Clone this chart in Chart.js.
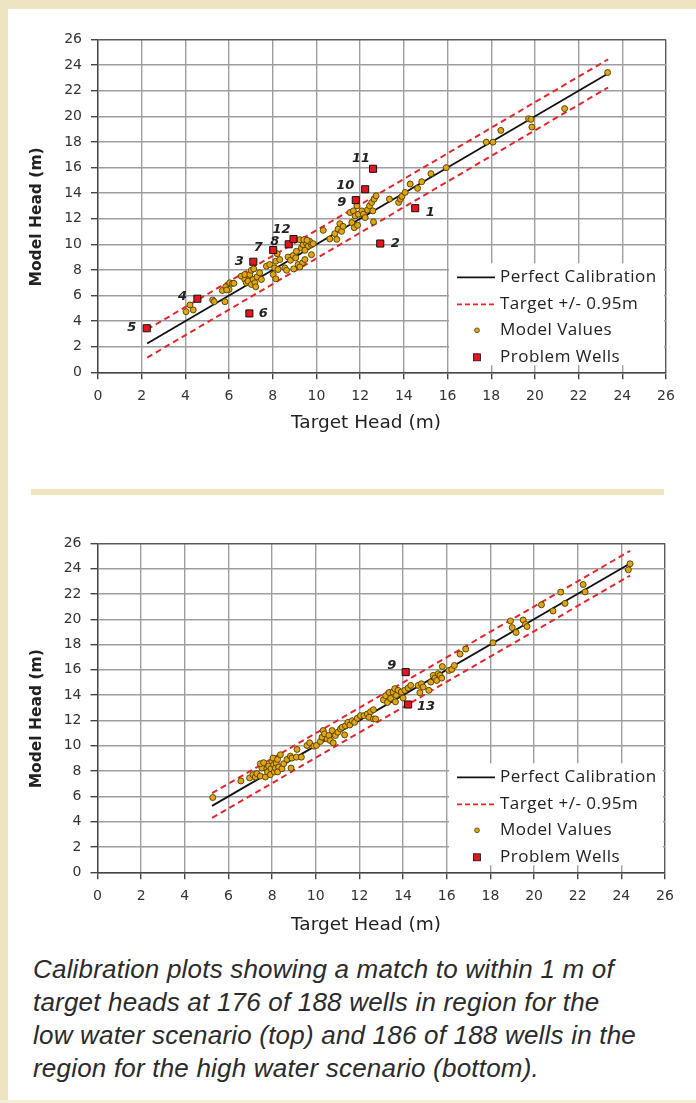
<!DOCTYPE html>
<html>
<head>
<meta charset="utf-8">
<script src="https://cdn.jsdelivr.net/npm/chart.js"></script>
<style>
  body { margin: 0; background: #fff; }
  #page { position: relative; width: 696px; height: 1103px; overflow: hidden; background: #fff; }
  canvas { position: absolute; left: 0; }
  .band { position: absolute; background: #eee4c2; }
  #caption {
    position: absolute; left: 33px; top: 953px;
    font: italic 26px "Liberation Sans", Arial, sans-serif;
    letter-spacing: 0.2px;
    line-height: 33px; color: #2b2b2b;
  }
</style>
</head>
<body>
<div id="page">
  <canvas id="lowChart" width="696" height="445" style="top:0"></canvas>
  <canvas id="highChart" width="696" height="445" style="top:500px"></canvas>
  <div class="band" style="left:0;top:0;width:696px;height:9px"></div>
  <div class="band" style="left:0;top:0;width:8px;height:1103px"></div>
  <div class="band" style="left:31px;top:489px;width:633px;height:6px"></div>
  <div class="band" style="left:0;top:1100px;width:696px;height:3px;background:#f4eed8"></div>
  <div id="caption">Calibration plots showing a match to within 1 m of<br>target heads at 176 of 188 wells in region for the<br>low water scenario (top) and 186 of 188 wells in the<br>region for the high water scenario (bottom).</div>
</div>
<script>
// tick values shared by both axes of both plots
const axisTicks = [0, 2, 4, 6, 8, 10, 12, 14, 16, 18, 20, 22, 24, 26];

const legendLabels = ["Perfect Calibration", "Target +/- 0.95m", "Model Values", "Problem Wells"];

// ---- low water scenario (top) ----
const lowLineX = [2.25, 23.35];
const lowPerfectY = [2.25, 23.35];
const lowUpperY = [3.35, 24.45];
const lowLowerY = [1.15, 22.25];

const lowModelX = [4.03, 4.21, 4.36, 5.25, 5.32, 5.81, 5.69, 5.85, 6.03, 6.15, 6.0, 5.89, 6.22,
  6.56, 6.72, 6.79, 6.95, 6.87, 7.02, 7.10, 7.18, 6.72, 6.95, 7.02, 7.28, 7.40, 7.13, 7.22, 7.48,
  7.71, 7.86, 8.09, 8.14, 8.24, 8.02, 8.14, 8.32, 8.20, 8.55, 8.70, 8.81, 8.93, 9.05, 9.16, 9.36,
  9.47, 8.63, 8.96, 9.24, 9.08, 9.31, 9.39, 9.54, 9.62, 9.77, 9.47, 9.69, 9.85, 9.24, 9.42, 9.57,
  9.77, 10.31, 10.61, 10.84, 10.99, 11.15, 11.07, 11.22, 10.93, 11.54, 11.69, 11.77, 11.85, 11.92,
  12.08, 12.15, 12.23, 12.34, 12.43, 12.53, 12.64, 12.73, 12.58, 12.61, 11.62, 11.73, 11.88, 13.34,
  13.76, 13.84, 13.91, 14.06, 14.29, 14.63, 14.82, 15.24, 15.94, 17.77, 18.08, 18.44, 19.71, 19.82,
  19.86, 21.36, 23.33];
const lowModelY = [4.74, 5.26, 4.87, 5.65, 5.52, 5.52, 6.39, 6.68, 6.99, 6.94, 6.47, 6.43, 6.95,
  7.51, 7.25, 6.99, 7.38, 7.12, 6.86, 7.25, 6.99, 7.64, 7.64, 7.97, 7.45, 7.77, 8.08, 6.68, 7.25,
  8.29, 8.42, 8.16, 8.68, 8.03, 7.64, 7.30, 8.81, 9.27, 8.16, 9.01, 8.75, 9.12, 8.94, 8.42, 8.55,
  8.81, 7.97, 8.08, 8.23, 9.45, 9.71, 9.97, 10.10, 9.84, 9.97, 9.53, 10.23, 10.05, 10.36, 10.36, 10.31,
  9.19, 11.09, 10.42, 10.83, 11.19, 11.01, 11.61, 11.40, 10.39, 12.48, 12.61, 12.22, 13.00, 12.35,
  12.61, 12.35, 12.09, 12.69, 13.00, 13.27, 13.53, 13.79, 12.61, 11.75, 11.70, 11.30, 11.49, 13.53,
  13.27, 13.53, 13.74, 14.05, 14.71, 14.37, 14.89, 15.52, 15.99, 17.98, 17.98, 18.90, 19.81, 19.76,
  19.16, 20.60, 23.42];

const lowWellNames = ["5", "4", "6", "3", "7", "8", "12", "9", "10", "11", "2", "1"];
const lowWellX = [2.23, 4.55, 6.93, 7.11, 8.02, 8.73, 8.95, 11.80, 12.23, 12.59, 12.92, 14.52];
const lowWellY = [3.44, 5.75, 4.60, 8.64, 9.55, 10.00, 10.41, 13.45, 14.30, 15.90, 10.06, 12.82];

// ---- high water scenario (bottom) ----
const highLineX = [5.25, 24.4];
const highPerfectY = [5.25, 24.4];
const highUpperY = [6.25, 25.4];
const highLowerY = [4.3, 23.45];

const highModelX = [5.28, 6.57, 6.97, 7.12, 7.23, 7.30, 7.46, 7.53, 7.46, 7.61, 7.69, 7.76, 7.79,
  7.84, 7.92, 7.95, 7.99, 8.04, 8.07, 8.10, 8.15, 8.19, 8.25, 8.30, 8.25, 8.38, 8.45, 8.53, 8.68,
  8.84, 8.87, 8.91, 9.11, 9.14, 9.34, 9.60, 9.72, 9.91, 10.03, 10.21, 10.29, 10.34, 10.40, 10.52,
  10.60, 10.67, 10.75, 10.80, 10.90, 11.01, 11.13, 11.21, 11.32, 11.36, 11.47, 11.56, 11.67, 11.78,
  11.90, 12.05, 12.21, 12.36, 12.51, 12.64, 12.44, 12.64, 12.74, 13.10, 13.20, 13.28, 13.36, 13.43,
  13.54, 13.62, 13.69, 13.77, 13.65, 13.92, 14.00, 14.08, 14.23, 14.35, 14.69, 14.77, 14.84, 14.92,
  15.18, 15.27, 15.38, 15.46, 15.54, 15.61, 15.69, 15.77, 15.80, 16.10, 16.23, 16.35, 16.61, 16.87,
  18.12, 18.92, 19.00, 19.18, 19.50, 19.61, 19.68, 20.34, 20.87, 21.22, 21.42, 22.25, 22.34, 24.32,
  24.40];
const highModelY = [5.91, 7.22, 7.46, 7.72, 7.53, 7.80, 7.61, 8.24, 8.58, 8.66, 7.53, 8.19, 7.93,
  8.40, 7.72, 8.19, 8.76, 9.03, 8.50, 7.93, 8.24, 8.63, 8.92, 8.32, 7.93, 9.29, 8.19, 8.58, 8.92,
  9.18, 8.24, 9.03, 9.10, 9.71, 9.10, 10.02, 10.23, 9.97, 10.02, 10.34, 10.68, 11.20, 10.94, 10.54,
  10.81, 10.41, 11.20, 10.23, 10.81, 11.07, 11.33, 11.46, 10.86, 11.59, 11.85, 11.64, 11.98, 11.85,
  12.17, 12.38, 12.38, 12.51, 12.69, 12.85, 12.25, 12.12, 12.12, 13.63, 13.95, 13.42, 14.21, 13.74,
  14.25, 14.51, 13.99, 14.38, 13.47, 14.25, 13.78, 14.38, 14.56, 14.77, 14.77, 14.20, 14.90, 14.64,
  14.38, 15.03, 15.56, 15.35, 15.16, 15.69, 15.56, 15.35, 16.26, 15.95, 16.03, 16.34, 17.25, 17.64,
  18.14, 19.86, 19.34, 18.95, 19.94, 19.60, 19.42, 21.14, 20.65, 22.14, 21.25, 22.74, 22.16, 23.91,
  24.38];

const highWellNames = ["9", "13"];
const highWellX = [14.12, 14.23];
const highWellY = [15.82, 13.26];

// label offsets (px) next to each problem well
const lowLabelOffsets = [[-15, -1], [-15, -2], [14, 0], [-14, 0], [-15, -2], [-14, -3], [-12, -9],
  [-14, 2], [-20, -4], [-12, -10], [15, 0], [15, 4]];
const highLabelOffsets = [[-14, -6], [18, 2]];

const modelFill = "#e2a514";
const modelEdge = "#4d3d00";
const wellFill = "#e8141c";
const dashRed = "#e2262b";

function toPoints(xs, ys) {
  return xs.map((x, i) => ({ x: x, y: ys[i] }));
}

// legend drawn inside the plot, the well numbers and both axis titles
const overlayPlugin = {
  id: "overlay",
  afterDatasetsDraw(chart) {
    const { ctx, chartArea } = chart;
    const cfg = chart.options.plugins.overlay;
    const b = chartArea.bottom;

    ctx.save();
    ctx.fillStyle = "#fff";
    ctx.fillRect(449, b - 109, chartArea.right - 451, 102);

    const rows = [b - 95, b - 68, b - 42, b - 15];
    ctx.lineWidth = 1.8;
    ctx.strokeStyle = "#111";
    ctx.beginPath(); ctx.moveTo(457, rows[0]); ctx.lineTo(495, rows[0]); ctx.stroke();
    ctx.strokeStyle = dashRed;
    ctx.setLineDash([5, 3]);
    ctx.beginPath(); ctx.moveTo(457, rows[1]); ctx.lineTo(495, rows[1]); ctx.stroke();
    ctx.setLineDash([]);

    ctx.lineWidth = 0.8;
    ctx.fillStyle = modelFill;
    ctx.strokeStyle = modelEdge;
    ctx.beginPath(); ctx.arc(477, rows[2], 2.4, 0, Math.PI * 2); ctx.fill(); ctx.stroke();
    ctx.fillStyle = wellFill;
    ctx.strokeStyle = "#111";
    ctx.fillRect(473.5, rows[3] - 3.5, 7, 7); ctx.strokeRect(473.5, rows[3] - 3.5, 7, 7);

    ctx.fillStyle = "#222";
    ctx.font = "17px 'Open Sans'";
    ctx.letterSpacing = "0.5px";
    ctx.textBaseline = "middle";
    ctx.textAlign = "left";
    legendLabels.forEach((t, i) => ctx.fillText(t, 500, rows[i]));
    ctx.letterSpacing = "0px";

    // problem well numbers
    const xs = chart.scales.x, ys = chart.scales.y;
    ctx.font = "italic bold 13px 'DejaVu Sans'";
    ctx.textAlign = "center";
    cfg.names.forEach((name, i) => {
      const px = xs.getPixelForValue(cfg.wx[i]) + cfg.offsets[i][0];
      const py = ys.getPixelForValue(cfg.wy[i]) + cfg.offsets[i][1];
      ctx.fillText(name, px, py);
    });

    // axis titles
    ctx.fillStyle = "#222";
    ctx.font = "18.5px 'DejaVu Sans'";
    ctx.fillText("Target Head (m)", 366, b + cfg.xTitleDy);

    ctx.translate(37, (chartArea.top + chartArea.bottom) / 2 + 11);
    ctx.rotate(-Math.PI / 2);
    ctx.font = "bold 15.5px 'DejaVu Sans'";
    ctx.fillText("Model Head (m)", 0, 0);
    ctx.restore();
  }
};

function axisOptions(isX, fit) {
  return {
    type: "linear",
    min: 0,
    max: 26,
    afterBuildTicks: (scale) => { scale.ticks = axisTicks.map(v => ({ value: v })); },
    afterFit: (scale) => { if (isX) scale.height = fit; else scale.width = fit; },
    grid: {
      color: (c) => (c.tick && c.tick.value === 26 ? "#5a5a5a" : "#9d9d9d"),
      lineWidth: 1.4,
      tickLength: 7,
      tickColor: "#444"
    },
    border: { color: "#444", width: 1.4 },
    ticks: {
      color: "#333",
      font: { family: "DejaVu Sans", size: 14 },
      padding: isX ? 9 : 9,
      maxRotation: 0,
      autoSkip: false
    }
  };
}

function makeCalibrationChart(id, d) {
  const ctx = document.getElementById(id).getContext("2d");
  return new Chart(ctx, {
    type: "scatter",
    data: {
      datasets: [
        {
          label: legendLabels[0], data: toPoints(d.lineX, d.perfectY), showLine: true,
          borderColor: "#111", borderWidth: 1.8, pointRadius: 0, order: 3
        },
        {
          label: legendLabels[1], data: toPoints(d.lineX, d.upperY), showLine: true,
          borderColor: dashRed, borderWidth: 2, borderDash: [6, 4], pointRadius: 0, order: 3
        },
        {
          label: legendLabels[1], data: toPoints(d.lineX, d.lowerY), showLine: true,
          borderColor: dashRed, borderWidth: 2, borderDash: [6, 4], pointRadius: 0, order: 3
        },
        {
          label: legendLabels[2], data: toPoints(d.modelX, d.modelY),
          backgroundColor: modelFill, borderColor: modelEdge, borderWidth: 0.9, pointRadius: 3, order: 2
        },
        {
          label: legendLabels[3], data: toPoints(d.wellX, d.wellY), pointStyle: "rect",
          backgroundColor: wellFill, borderColor: "#111", borderWidth: 1, pointRadius: 5, order: 1
        }
      ]
    },
    options: {
      responsive: false,
      animation: false,
      layout: { padding: { left: 20, right: d.padRight, top: d.padTop, bottom: 0 } },
      scales: {
        x: axisOptions(true, 72.7),
        y: axisOptions(false, d.yWidth)
      },
      plugins: {
        legend: { display: false },
        tooltip: { enabled: false },
        overlay: { names: d.names, wx: d.wellX, wy: d.wellY, offsets: d.offsets, xTitleDy: d.xTitleDy }
      }
    },
    plugins: [overlayPlugin]
  });
}

document.addEventListener("DOMContentLoaded", function () {
  makeCalibrationChart("lowChart", {
    lineX: lowLineX, perfectY: lowPerfectY, upperY: lowUpperY, lowerY: lowLowerY,
    modelX: lowModelX, modelY: lowModelY, wellX: lowWellX, wellY: lowWellY,
    names: lowWellNames, offsets: lowLabelOffsets,
    padTop: 39.5, padRight: 30, yWidth: 78, xTitleDy: 51
  });

  makeCalibrationChart("highChart", {
    lineX: highLineX, perfectY: highPerfectY, upperY: highUpperY, lowerY: highLowerY,
    modelX: highModelX, modelY: highModelY, wellX: highWellX, wellY: highWellY,
    names: highWellNames, offsets: highLabelOffsets,
    padTop: 43.3, padRight: 31, yWidth: 77.5, xTitleDy: 52.5
  });
});
</script>
</body>
</html>
